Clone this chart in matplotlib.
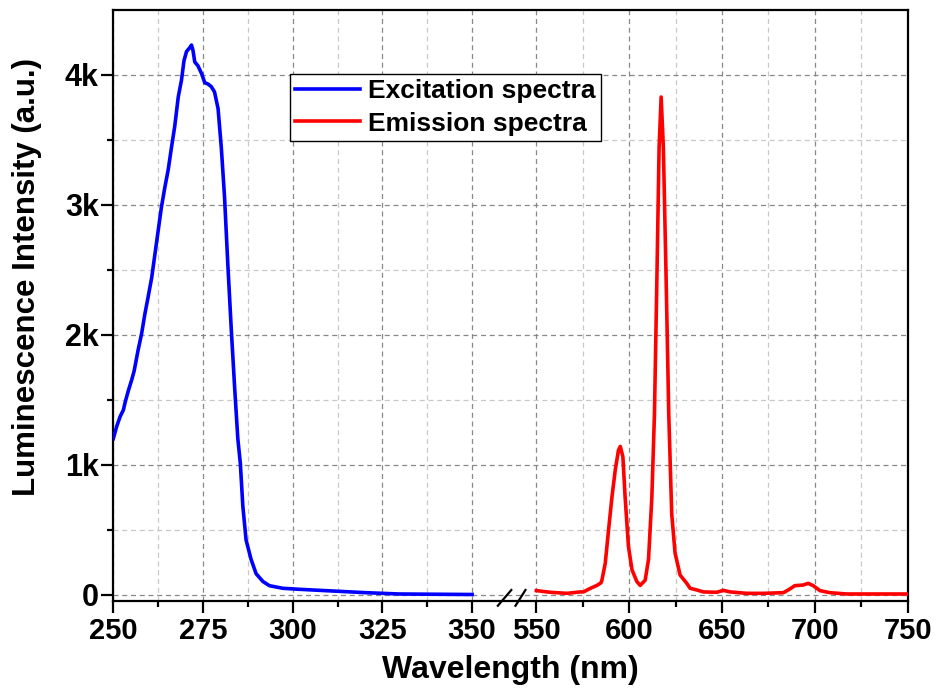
import numpy as np
import matplotlib
matplotlib.use("Agg")
import matplotlib.pyplot as plt
from matplotlib.ticker import FixedLocator, FuncFormatter

# ---- data ----
exc_nm = [250.0, 250.9, 251.9, 252.8, 253.3, 254.2, 255.1, 255.8, 256.9, 257.9,
          258.8, 259.7, 260.7, 261.6, 262.5, 263.4, 264.4, 265.3, 266.2, 267.1,
          268.1, 269.0, 269.7, 270.4, 271.3, 271.8, 272.2, 272.7, 273.6, 274.6,
          275.5, 276.4, 277.3, 278.2, 279.2, 280.1, 281.0, 281.9, 282.9, 283.8,
          284.7, 285.4, 286.1, 287.0, 288.4, 289.8, 291.7, 293.5, 297.2, 301.9,
          311.1, 320.4, 329.6, 350.0]
exc_val = [1200, 1290, 1370, 1420, 1480, 1570, 1650, 1720, 1880, 2010,
           2160, 2290, 2440, 2620, 2800, 2980, 3140, 3270, 3440, 3600,
           3830, 3960, 4110, 4180, 4210, 4230, 4190, 4100, 4070, 4010,
           3940, 3930, 3910, 3870, 3740, 3440, 3060, 2550, 2030, 1600,
           1200, 1010, 680, 420, 270, 160, 100, 68, 48, 40,
           27, 14, 4, 0]

em_nm = [550, 557.5, 566.5, 573.7, 575.4, 579, 582.6, 584.8, 585.3, 587.1,
         588.9, 590.7, 592.5, 594.2, 595.2, 596.6, 597.8, 599.6, 601.5, 604.1,
         605.9, 608.6, 610.4, 612.2, 613.6, 614.9, 616.1, 617.2, 618.4, 619.9,
         621.3, 622.9, 624.7, 627.4, 631.0, 632.8, 636.4, 639.9, 647.1, 650.7,
         654.3, 663.3, 672.3, 683.0, 685.7, 689.2, 693.7, 696.4, 699.1, 702.7,
         708.1, 717.1, 750]
em_val = [30, 17, 9, 20, 20, 47, 70, 90, 110, 240,
          500, 750, 960, 1110, 1140, 1060, 750, 370, 190, 100,
          70, 110, 270, 750, 1390, 2420, 3440, 3830, 3440, 2420,
          1390, 620, 320, 150, 86, 48, 35, 20, 17, 32,
          20, 9, 9, 14, 35, 68, 73, 86, 68, 30,
          14, 4, 4]

major_ticks = [250, 275, 300, 325, 350, 550, 600, 650, 700, 750]
minor_ticks = [262.5, 287.5, 312.5, 337.5, 575, 625, 675, 725]
y_major = [0, 1000, 2000, 3000, 4000]
y_minor = [500, 1500, 2500, 3500]

# ---- broken axis scale ----
G = 17.9      # gap width (in left-segment units)
R = 0.5174    # right segment compression


def fwd(x):
    x = np.asarray(x, dtype=float)
    return np.where(x <= 350, x,
                    np.where(x < 550, 350 + (x - 350) * G / 200.0,
                             350 + G + (x - 550) * R))


def inv(u):
    u = np.asarray(u, dtype=float)
    return np.where(u <= 350, u,
                    np.where(u < 350 + G, 350 + (u - 350) * 200.0 / G,
                             550 + (u - 350 - G) / R))


plt.rcParams['font.family'] = ['Liberation Sans', 'DejaVu Sans']
plt.rcParams['font.weight'] = 'bold'

fig = plt.figure(figsize=(9.39, 7.0), dpi=100)
ax = fig.add_axes([113.3 / 939, 99 / 700, 794.4 / 939, 591 / 700])
ax.set_xscale('function', functions=(fwd, inv))
ax.set_xlim(250, 750)
ax.set_ylim(-50, 4500)

ax.plot(exc_nm, exc_val, color='#0000FF', lw=2.6, label='Excitation spectra',
        zorder=3, solid_joinstyle='round')
ax.plot(em_nm, em_val, color='#FF0000', lw=2.6, label='Emission spectra',
        zorder=3, solid_joinstyle='round')

ax.xaxis.set_major_locator(FixedLocator(major_ticks))
ax.xaxis.set_minor_locator(FixedLocator(minor_ticks))
ax.xaxis.set_major_formatter(FuncFormatter(lambda v, p: f"{v:.0f}"))
ax.xaxis.set_minor_formatter(FuncFormatter(lambda v, p: ""))
ax.yaxis.set_major_locator(FixedLocator(y_major))
ax.yaxis.set_minor_locator(FixedLocator(y_minor))
ax.yaxis.set_major_formatter(FuncFormatter(lambda v, p: "0" if v == 0 else f"{v/1000:.0f}k"))

ax.grid(which='major', color='#888888', ls=(0, (4, 3)), lw=0.9, zorder=0)
ax.grid(which='minor', color='#c8c8c8', ls=(0, (4, 3)), lw=0.9, zorder=0)

ax.tick_params(which='major', direction='out', length=8.5, width=1.6, pad=3)
ax.tick_params(which='minor', direction='out', length=4.5, width=1.6)
ax.tick_params(axis='x', which='major', labelsize=21)
ax.tick_params(axis='y', which='major', labelsize=22, pad=2)
for s in ax.spines.values():
    s.set_linewidth(1.6)

for lab in ax.get_xticklabels() + ax.get_yticklabels():
    lab.set_fontweight('bold')

ax.set_xlabel('Wavelength (nm)', fontsize=23, fontweight='bold', labelpad=7)
ax.set_ylabel('Luminescence Intensity (a.u.)', fontsize=22.5, fontweight='bold')
ax.yaxis.set_label_coords(-0.0898, 0.548)

# break marks on the bottom spine
trans = ax.get_xaxis_transform()
for x0, x1 in [(430, 472), (485, 516)]:
    ax.plot([x0, x1], [-0.008, 0.0186], transform=trans, color='black',
            lw=1.6, clip_on=False, zorder=5)

leg = ax.legend(loc='upper left', bbox_to_anchor=(0.2224, 0.8917),
                fontsize=19, frameon=True, fancybox=False, framealpha=1,
                edgecolor='black', handlelength=2.45, handletextpad=0.3,
                borderpad=0.2, labelspacing=0.32, borderaxespad=0)
leg.get_frame().set_linewidth(1.0)
for t in leg.get_texts():
    t.set_fontweight('bold')

fig.savefig('out.png', dpi=100)
